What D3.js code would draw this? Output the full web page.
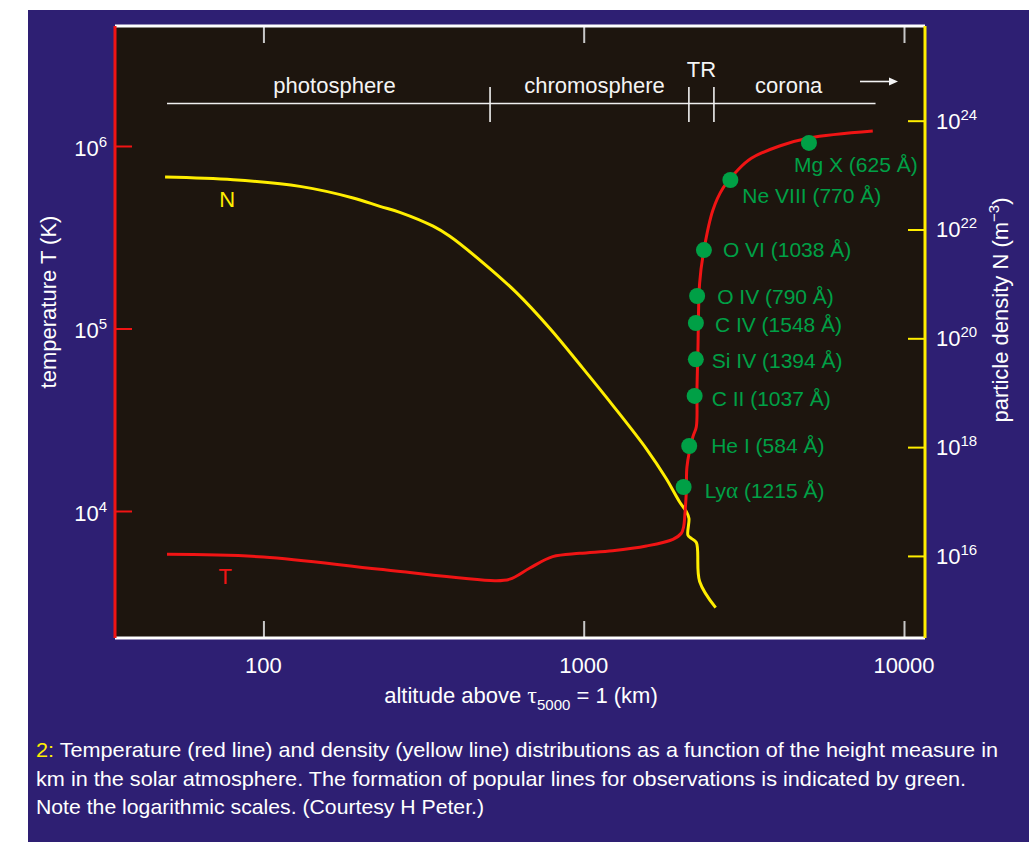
<!DOCTYPE html>
<html>
<head>
<meta charset="utf-8">
<script src="https://cdn.jsdelivr.net/npm/d3@7"></script>
<style>
  body { margin: 0; background: #ffffff; }
  svg { display: block; font-family: "Liberation Sans", Arial, sans-serif; }
</style>
</head>
<body>
<svg id="chart" width="1029" height="842"></svg>
<script>
// Temperature profile (red line): altitude in km, T in K
const tempHeight = [50, 100, 231, 528, 588, 679, 800, 972, 1231, 1569, 1899, 2017, 2051, 2071, 2092, 2101, 2193, 2247, 2257, 2273, 2301, 2373, 2532, 2720, 3029, 3336, 4088, 5050, 7990];
const tempValue = [5790, 5600, 4790, 4150, 4230, 4870, 5620, 5860, 6060, 6430, 7000, 7550, 8200, 9710, 13040, 17480, 25540, 28970, 46030, 76240, 177500, 269200, 446000, 586500, 738800, 856000, 1000000, 1106000, 1208000];

// Density profile (yellow line): altitude in km, N in m^-3
const densHeight = [49.3, 80.5, 130, 190.6, 231, 266.6, 338.7, 381.9, 485.1, 616.6, 783, 993, 1234, 1569, 1811, 1993, 2092, 2131, 2116, 2168, 2247, 2301, 2582];
const densValue = [9.2e22, 8.2e22, 6.2e22, 3.8e22, 2.66e22, 2.07e22, 1.15e22, 7.5e21, 2.44e21, 6.9e20, 1.53e20, 2.83e19, 5.8e18, 9.3e17, 2.62e17, 9.8e16, 6.5e16, 4.9e16, 2.4e16, 2.1e16, 1.77e16, 3.4e15, 1.12e15];

// Formation of observed lines (green dots)
const lineNames = ["Mg X (625 Å)", "Ne VIII (770 Å)", "O VI (1038 Å)", "O IV (790 Å)", "C IV (1548 Å)", "Si IV (1394 Å)", "C II (1037 Å)", "He I (584 Å)", "Lyα (1215 Å)"];
const lineHeight = [5050, 2870, 2373, 2260, 2240, 2239, 2220, 2135, 2051];
const lineTemp = [1.04e6, 6.51e5, 2.69e5, 1.507e5, 1.072e5, 6.78e4, 4.27e4, 2.27e4, 1.354e4];

// Atmosphere layers along the top
const regionNames = ["photosphere", "chromosphere", "TR", "corona"];
const regionEdges = [50, 510, 2130, 2550, 8150];

// Ticks
const xTicks = [100, 1000, 10000];
const tTicks = [1e4, 1e5, 1e6];
const nTicks = [1e16, 1e18, 1e20, 1e22, 1e24];

const captionLines = [
  "Temperature (red line) and density (yellow line) distributions as a function of the height measure in",
  "km in the solar atmosphere. The formation of popular lines for observations is indicated by green.",
  "Note the logarithmic scales. (Courtesy H Peter.)"
];

const RED = "#f01414";
const YELLOW = "#ffee00";
const GREEN = "#00a046";
const NAVY = "#2e1f73";
const DARK = "#1d150e";

const svg = d3.select("#chart");
const plot = { left: 115, right: 925, top: 26, bottom: 638 };

const xScale = d3.scaleLog().domain([34.4, 11630]).range([plot.left, plot.right]);
const tScale = d3.scaleLog().domain([Math.pow(10, 3.3041), Math.pow(10, 6.6575)]).range([plot.bottom, plot.top]);
const nScale = d3.scaleLog().domain([Math.pow(10, 14.4914), Math.pow(10, 25.7404)]).range([plot.bottom, plot.top]);

// Panel and plot background
svg.append("rect").attr("x", 28).attr("y", 10).attr("width", 1001).attr("height", 832).attr("fill", NAVY);
svg.append("rect")
  .attr("x", plot.left).attr("y", plot.top)
  .attr("width", plot.right - plot.left).attr("height", plot.bottom - plot.top)
  .attr("fill", DARK);

// Tick marks (inward) from d3 axes
function tickAxis(axis, transform, color) {
  const g = svg.append("g").attr("transform", transform).call(axis);
  g.select(".domain").remove();
  g.selectAll("line").attr("stroke", color).attr("stroke-width", 2);
  g.selectAll("text").remove();
  return g;
}
tickAxis(d3.axisBottom(xScale).tickValues(xTicks).tickSize(-17), "translate(0," + plot.bottom + ")", "#c8c8c8");
tickAxis(d3.axisTop(xScale).tickValues(xTicks).tickSize(-17), "translate(0," + plot.top + ")", "#c8c8c8");
tickAxis(d3.axisLeft(tScale).tickValues(tTicks).tickSize(-17), "translate(" + plot.left + ",0)", RED);
tickAxis(d3.axisRight(nScale).tickValues(nTicks).tickSize(-17), "translate(" + plot.right + ",0)", YELLOW);

// Frame
svg.append("line").attr("x1", plot.left).attr("x2", plot.right).attr("y1", plot.top).attr("y2", plot.top)
  .attr("stroke", "#ffffff").attr("stroke-width", 3);
svg.append("line").attr("x1", plot.left).attr("x2", plot.right).attr("y1", plot.bottom).attr("y2", plot.bottom)
  .attr("stroke", "#ffffff").attr("stroke-width", 3);
svg.append("line").attr("x1", plot.left).attr("x2", plot.left).attr("y1", plot.top).attr("y2", plot.bottom)
  .attr("stroke", RED).attr("stroke-width", 3);
svg.append("line").attr("x1", plot.right).attr("x2", plot.right).attr("y1", plot.top).attr("y2", plot.bottom)
  .attr("stroke", YELLOW).attr("stroke-width", 3);

// X tick labels
svg.append("g").selectAll("text").data(xTicks).enter().append("text")
  .attr("x", (d) => xScale(d))
  .attr("y", 673)
  .attr("text-anchor", "middle")
  .attr("fill", "#ffffff")
  .style("font-size", "22px")
  .text((d) => d);

// Power-of-ten labels
function powerLabel(sel, exponent) {
  sel.append("tspan").text("10");
  sel.append("tspan").attr("dy", -9).style("font-size", "15px").text(exponent);
}
svg.append("g").selectAll("text").data(tTicks).enter().append("text")
  .attr("x", 107)
  .attr("y", (d) => tScale(d) + 10)
  .attr("text-anchor", "end")
  .attr("fill", "#ffffff")
  .style("font-size", "22px")
  .each(function (d) { powerLabel(d3.select(this), Math.round(Math.log10(d))); });
svg.append("g").selectAll("text").data(nTicks).enter().append("text")
  .attr("x", 936)
  .attr("y", (d) => nScale(d) + 8)
  .attr("fill", "#ffffff")
  .style("font-size", "22px")
  .each(function (d) { powerLabel(d3.select(this), Math.round(Math.log10(d))); });

// Axis titles
const xTitle = svg.append("text")
  .attr("x", 521).attr("y", 703)
  .attr("text-anchor", "middle")
  .attr("fill", "#ffffff")
  .style("font-size", "22px");
xTitle.append("tspan").text("altitude above ");
xTitle.append("tspan").style("font-family", "'Liberation Serif', serif").style("font-size", "24px").text("τ");
xTitle.append("tspan").attr("dy", 7).style("font-size", "15px").text("5000");
xTitle.append("tspan").attr("dy", -7).text(" = 1 (km)");

svg.append("text")
  .attr("transform", "translate(56,302)rotate(-90)")
  .attr("text-anchor", "middle")
  .attr("fill", "#ffffff")
  .style("font-size", "22px")
  .text("temperature T (K)");

const nTitle = svg.append("text")
  .attr("transform", "translate(1008,310)rotate(-90)")
  .attr("text-anchor", "middle")
  .attr("fill", "#ffffff")
  .style("font-size", "22px");
nTitle.append("tspan").text("particle density N (m");
nTitle.append("tspan").attr("dy", -9).style("font-size", "15px").text("−3");
nTitle.append("tspan").attr("dy", 9).text(")");

// Layer bar along the top
const barY = 103.5;
svg.append("line")
  .attr("x1", xScale(regionEdges[0])).attr("x2", xScale(regionEdges[regionEdges.length - 1]))
  .attr("y1", barY).attr("y2", barY)
  .attr("stroke", "#f0f0f0").attr("stroke-width", 1.6);
svg.append("g").selectAll("line").data(regionEdges.slice(1, -1)).enter().append("line")
  .attr("x1", (d) => xScale(d)).attr("x2", (d) => xScale(d))
  .attr("y1", 87).attr("y2", 122)
  .attr("stroke", "#f0f0f0").attr("stroke-width", 1.6);
// label sits a little right of the layer's middle, corona a little left
const regionNudge = [6, 5, 0, -6];
svg.append("g").selectAll("text").data(regionNames).enter().append("text")
  .attr("x", (d, i) => (xScale(regionEdges[i]) + xScale(regionEdges[i + 1])) / 2 + regionNudge[i])
  .attr("y", (d, i) => (xScale(regionEdges[i + 1]) - xScale(regionEdges[i]) < 60 ? 77 : 92.5))
  .attr("text-anchor", "middle")
  .attr("fill", "#f4f4f4")
  .style("font-size", "22px")
  .text((d) => d);

// Arrow towards outer corona
svg.append("line").attr("x1", 860).attr("x2", 889).attr("y1", 81.5).attr("y2", 81.5)
  .attr("stroke", "#f4f4f4").attr("stroke-width", 1.6);
svg.append("path").attr("d", "M889,77.5L898,81.5L889,85.5Z").attr("fill", "#f4f4f4");

// Curves
const densData = densHeight.map((h, i) => [h, densValue[i]]);
const tempData = tempHeight.map((h, i) => [h, tempValue[i]]);

const densLine = d3.line()
  .x((d) => xScale(d[0]))
  .y((d) => nScale(d[1]))
  .curve(d3.curveCatmullRom.alpha(0.5));
const tempLine = d3.line()
  .x((d) => xScale(d[0]))
  .y((d) => tScale(d[1]))
  .curve(d3.curveCatmullRom.alpha(0.5));

svg.append("path").datum(densData)
  .attr("d", densLine)
  .attr("fill", "none").attr("stroke", YELLOW).attr("stroke-width", 3);
svg.append("path").datum(tempData)
  .attr("d", tempLine)
  .attr("fill", "none").attr("stroke", RED).attr("stroke-width", 3);

// Curve names
svg.append("text").attr("x", xScale(77)).attr("y", nScale(Math.pow(10, 22.42)))
  .attr("text-anchor", "middle").attr("fill", YELLOW).style("font-size", "22px").text("N");
svg.append("text").attr("x", xScale(76)).attr("y", tScale(3980))
  .attr("text-anchor", "middle").attr("fill", RED).style("font-size", "22px").text("T");

// Line formation dots and labels
const labelOffset = [[-15, 29], [12, 23], [19, 7], [20, 8], [19, 9], [16, 9], [17, 10], [22, 7], [21, 11]];
svg.append("g").selectAll("circle").data(lineNames).enter().append("circle")
  .attr("cx", (d, i) => xScale(lineHeight[i]))
  .attr("cy", (d, i) => tScale(lineTemp[i]))
  .attr("r", 8)
  .attr("fill", GREEN);
svg.append("g").selectAll("text").data(lineNames).enter().append("text")
  .attr("x", (d, i) => xScale(lineHeight[i]) + labelOffset[i][0])
  .attr("y", (d, i) => tScale(lineTemp[i]) + labelOffset[i][1])
  .attr("fill", GREEN)
  .style("font-size", "21px")
  .each(function (d) {
    const t = d3.select(this);
    const k = d.indexOf("α");
    if (k < 0) {
      t.text(d);
    } else {
      t.append("tspan").text(d.slice(0, k));
      t.append("tspan").style("font-family", "'Liberation Serif', serif").style("font-size", "23px").text("α");
      t.append("tspan").text(d.slice(k + 1));
    }
  });

// Caption
const capWidths = [962, 930, 448];
captionLines.forEach(function (line, i) {
  const t = svg.append("text")
    .attr("x", 36)
    .attr("y", 757 + i * 28.5)
    .attr("fill", "#ffffff")
    .attr("textLength", capWidths[i])
    .attr("lengthAdjust", "spacingAndGlyphs")
    .style("font-size", "21px");
  if (i === 0) {
    t.append("tspan").attr("fill", YELLOW).text("2:");
    t.append("tspan").text(" " + line);
  } else {
    t.text(line);
  }
});
</script>
</body>
</html>
